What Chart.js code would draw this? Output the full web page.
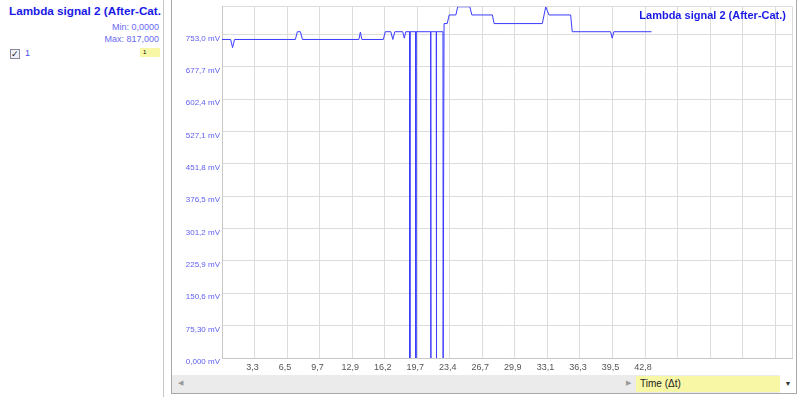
<!DOCTYPE html>
<html>
<head>
<meta charset="utf-8">
<script src="https://cdn.jsdelivr.net/npm/chart.js@4.4.1/dist/chart.umd.min.js"></script>
<style>
body { margin:0; width:800px; height:417px; background:#fff; font-family:Arial, "Liberation Sans", sans-serif; position:relative; overflow:hidden; }
#side { position:absolute; left:0; top:0; width:163px; height:397px; border-right:1px solid #c8c8c8; }
#sideTitle { position:absolute; left:9px; top:4px; width:152px; overflow:hidden; white-space:nowrap; font-weight:bold; font-size:11.7px; color:#1a1ae6; }
.mm { position:absolute; right:4px; font-size:9px; color:#6a6af2; }
#chk { position:absolute; left:10px; top:49px; width:8px; height:8px; border:1px solid #8a8a9a; background:#eef0f8; font-size:9px; line-height:8px; color:#223; text-align:center; }
#chkLbl { position:absolute; left:25px; top:48px; font-size:9px; color:#4a4af0; }
#ybox { position:absolute; left:140px; top:48px; width:20px; height:9px; background:#f7f7a6; font-size:6px; line-height:9px; padding-left:3px; box-sizing:border-box; }
#panel { position:absolute; left:171px; top:-1px; width:624px; height:393px; border:1px solid #a8a8a8; }
#c { position:absolute; left:0; top:0; }
#scroll { position:absolute; left:0; top:375px; width:624px; height:18px; background:#ebebeb; }
.arr { position:absolute; top:4px; font-size:7px; color:#999; }
#axisSel { position:absolute; left:464px; top:1px; width:144px; height:16px; background:#f7f7a6; font-size:10px; line-height:16px; padding-left:4px; box-sizing:border-box; color:#222; }
#drop { position:absolute; left:608px; top:0; width:16px; height:18px; background:#fff; font-size:7px; line-height:18px; text-align:center; color:#333; }
</style>
</head>
<body>
<div id="side">
  <div id="sideTitle">Lambda signal 2 (After-Cat.)</div>
  <div class="mm" style="top:22px">Min: 0,0000</div>
  <div class="mm" style="top:34px">Max: 817,000</div>
  <div id="chk">✓</div>
  <div id="chkLbl">1</div>
  <div id="ybox">1</div>
</div>
<div id="panel">
  <canvas id="c" width="624" height="375"></canvas>
  <div id="scroll">
    <div class="arr" style="left:6px">◀</div>
    <div class="arr" style="left:454px">▶</div>
    <div id="axisSel">Time (Δt)</div>
    <div id="drop">▼</div>
  </div>
</div>
<script>
// signal samples, time in s, value in mV
var times = [0.00, 0.87, 1.07, 1.27, 7.42, 7.62, 7.93, 8.13, 13.84, 13.99, 14.14,
  16.31, 16.51, 17.07, 17.27, 17.47, 18.28, 18.43, 18.58, 18.97, 18.99, 19.01,
  19.58, 19.60, 19.62, 21.09, 21.11, 21.13, 21.66, 21.68, 21.70, 22.34, 22.36, 22.45,
  22.77, 22.97, 23.65, 23.83, 25.06, 25.26, 27.34, 27.51, 32.39, 32.73, 33.06,
  35.25, 35.41, 39.29, 39.45, 39.62, 43.43];
var values = [741, 741, 722, 741, 741, 759, 759, 741, 741, 758, 741,
  741, 759, 759, 741, 759, 759, 744, 759, 759, 0, 759,
  759, 0, 759, 759, 0, 759, 759, 0, 759, 759, 0, 778,
  778, 798, 798, 817, 817, 798, 798, 778, 778, 817, 798,
  798, 759, 759, 744, 759, 759];

var xStep = 3.29;
var xMax = 57.63;
var xTickLabels = ["3,3", "6,5", "9,7", "12,9", "16,2", "19,7", "23,4", "26,7", "29,9", "33,1", "36,3", "39,5", "42,8"];
var yMax = 817;
var yTickValues = [0, 75.3, 150.6, 225.9, 301.2, 376.5, 451.8, 527.1, 602.4, 677.7, 753.0];
var yTickLabels = ["0,000 mV", "75,30 mV", "150,6 mV", "225,9 mV", "301,2 mV", "376,5 mV", "451,8 mV", "527,1 mV", "602,4 mV", "677,7 mV", "753,0 mV"];

var points = times.map(function (t, i) { return { x: t, y: values[i] }; });

var titlePlugin = {
  id: 'cornerTitle',
  afterDraw: function (chart) {
    var ctx = chart.ctx;
    ctx.save();
    ctx.font = 'bold 11px Arial';
    ctx.fillStyle = '#1a1ae6';
    ctx.textAlign = 'right';
    ctx.textBaseline = 'middle';
    ctx.fillText('Lambda signal 2 (After-Cat.)', chart.chartArea.right - 6, 16);
    ctx.restore();
  }
};

var ctx = document.getElementById('c');
var myChart = new Chart(ctx, {
  type: 'line',
  data: {
    datasets: [{
      data: points,
      borderColor: '#3c3cff',
      borderWidth: 1,
      pointRadius: 0,
      tension: 0,
      fill: false
    }]
  },
  options: {
    responsive: false,
    animation: false,
    devicePixelRatio: 1,
    layout: { padding: { top: 5, right: 3, left: 0, bottom: 0 } },
    plugins: { legend: { display: false }, tooltip: { enabled: false } },
    scales: {
      x: {
        type: 'linear',
        min: 0,
        max: xMax,
        afterBuildTicks: function (s) {
          var t = [];
          for (var i = 1; i * xStep < xMax; i++) t.push({ value: i * xStep });
          t.push({ value: xMax });
          s.ticks = t;
        },
        afterFit: function (s) { s.height = 17; },
        grid: { color: '#dcdcdc', drawTicks: false },
        border: { color: '#c8c8c8' },
        ticks: {
          autoSkip: false, maxRotation: 0, padding: 4, labelOffset: -2,
          color: '#555', font: { size: 9, family: 'Arial' },
          callback: function (v, i) { return xTickLabels[i] || ''; }
        }
      },
      y: {
        min: 0,
        max: yMax,
        afterBuildTicks: function (s) {
          var t = yTickValues.map(function (v) { return { value: v }; });
          t.push({ value: yMax });
          s.ticks = t;
        },
        afterFit: function (s) { s.width = 50; },
        grid: { color: '#dcdcdc', drawTicks: false },
        border: { color: '#c8c8c8' },
        ticks: {
          autoSkip: false, padding: 2, labelOffset: 4,
          color: '#6060f2', font: { size: 8, family: 'Arial' },
          callback: function (v, i) { return yTickLabels[i] || ''; }
        }
      }
    }
  },
  plugins: [titlePlugin]
});
</script>
</body>
</html>
